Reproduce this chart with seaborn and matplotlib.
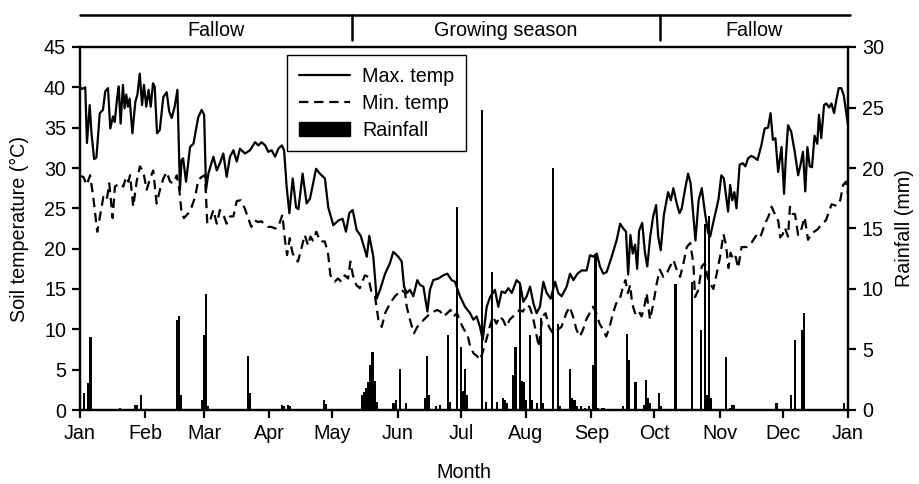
import matplotlib
matplotlib.use("Agg")
import matplotlib.pyplot as plt
import matplotlib.transforms as mtransforms
from matplotlib.patches import Patch
from matplotlib.lines import Line2D
import pandas as pd
import seaborn as sns

# ---------------- data (day of year) ----------------
tmax_day = [0, 1, 2.5, 3.3, 4.6, 5.4, 6.7, 7.8, 9.4, 10.9, 12.0, 13.3, 14.4, 15.7, 16.5, 17.7, 18.4, 19.3,
            20.4, 21.2, 22.0, 22.8, 23.6, 24.9, 26.3, 27.3, 28.4, 29.5, 30.4, 31.5, 32.6, 33.6, 34.7, 35.5,
            36.6, 37.9, 39.6, 41.2, 42.4, 43.6, 45.0, 46.3, 47.5, 48.3, 49.0, 50.4, 52.3, 53.9, 56.2, 57.8,
            59.0, 59.9, 61.0, 63.4, 65.0, 66.5, 68.1, 69.7, 71.3, 72.9, 74.5, 76.0, 78.4, 80.8, 83.2, 84.8,
            86.3, 88.0, 89.5, 91.1, 92.7, 94.3, 95.9, 97.0, 98.2, 99.5, 101.1, 102.7, 103.8, 105.8, 107.7,
            109.3, 112.2, 114.0, 116.4, 118.0, 120.4, 122.8, 124.8, 126.4, 128.0, 129.6, 131.5, 133.4, 135.0,
            136.3, 137.5, 139.4, 141.0, 142.6, 145.0, 147.3, 148.9, 151.3, 152.9, 154.0, 155.3, 156.8, 158.4,
            160.3, 161.6, 163.2, 165.1, 166.3, 167.9, 170.3, 172.7, 174.6, 176.6, 178.2, 180.6, 183.0, 185.4,
            186.9, 188.5, 190.1, 191.4, 193.3, 194.9, 197.2, 198.8, 200.4, 202.0, 203.6, 205.2, 207.5, 209.1,
            210.7, 212.3, 213.9, 215.5, 217.0, 218.6, 220.2, 221.8, 223.7, 225.8, 227.3, 228.9, 231.3, 232.9,
            234.5, 236.4, 238.4, 240.8, 242.4, 244.0, 245.6, 247.1, 248.7, 250.3, 252.7, 255.1, 256.7, 258.2,
            259.5, 260.5, 261.6, 262.7, 263.8, 264.8, 265.7, 267.2, 268.5, 269.6, 271.0, 272.4, 273.8, 274.8,
            276.0, 277.5, 279.5, 280.8, 282.0, 283.6, 284.9, 286.0, 287.5, 289.0, 290.2, 291.5, 292.5, 294.0,
            295.5, 297.0, 298.5, 299.5, 301.0, 302.5, 303.5, 304.8, 306.0, 307.0, 308.0, 309.0, 310.0, 311.0,
            312.0, 313.5, 315.0, 316.2, 317.5, 319.0, 320.5, 322.0, 323.8, 325.4, 327.0, 328.2, 329.3, 330.5,
            331.8, 333.4, 334.6, 335.4, 336.5, 338.0, 339.7, 341.3, 342.5, 343.6, 344.7, 345.7, 346.8, 347.9,
            349.1, 350.4, 351.2, 352.3, 353.6, 354.7, 356.0, 357.1, 358.4, 359.5, 360.6, 361.8, 363.0, 364.1,
            365.0]
tmax = [40.0, 39.8, 40.0, 33.1, 37.8, 34.5, 31.1, 31.3, 36.8, 37.2, 39.5, 39.9, 34.9, 36.4, 35.7, 38.8, 40.1, 35.5,
        40.3, 37.4, 39.1, 37.6, 38.6, 34.3, 38.2, 39.1, 41.7, 37.8, 40.3, 37.6, 39.7, 37.6, 40.5, 40.1,
        34.3, 34.7, 38.8, 39.4, 37.0, 36.2, 37.6, 39.7, 27.3, 31.0, 31.2, 28.3, 32.6, 33.0, 36.3, 37.2,
        36.6, 27.3, 29.3, 31.4, 29.7, 30.6, 31.8, 28.9, 31.4, 32.2, 30.8, 32.4, 31.8, 32.2, 33.2, 32.8,
        33.2, 32.8, 32.0, 32.2, 31.4, 32.4, 32.8, 32.2, 27.7, 24.4, 28.7, 25.1, 24.9, 29.3, 25.6,
        26.2, 29.9, 29.3, 28.7, 25.1, 22.9, 23.5, 23.7, 22.1, 24.4, 24.8, 22.3, 21.6, 20.2,
        19.0, 21.6, 19.0, 13.8, 14.9, 16.9, 18.2, 19.6, 19.0, 18.4, 15.3, 14.5, 14.9, 14.1,
        16.1, 15.5, 15.3, 12.2, 14.9, 16.1, 16.3, 16.7, 16.9, 16.1, 15.9, 14.1, 12.8, 12.0,
        11.2, 11.6, 10.3, 8.7, 12.8, 14.0, 14.9, 12.8, 14.7, 14.5, 15.1, 14.5, 16.1, 15.7,
        13.4, 14.1, 15.3, 13.2, 12.0, 12.8, 15.9, 14.5, 13.8, 15.9, 14.5, 14.1, 15.3, 16.9,
        16.1, 16.9, 17.3, 17.3, 19.2, 19.0, 19.4, 17.8, 16.9, 17.1, 19.0, 21.1, 23.1, 22.5,
        22.1, 16.8, 21.7, 19.4, 20.5, 17.5, 22.2, 23.2, 19.5, 17.8, 21.5, 24.0, 25.4, 21.5,
        19.8, 24.2, 27.0, 26.0, 27.5, 25.6, 24.4, 25.0, 27.3, 29.3, 28.1, 24.0, 21.0, 26.0,
        27.5, 24.5, 22.0, 21.5, 23.3, 25.0, 26.2, 29.1, 28.7, 26.6, 24.6, 27.9, 26.0, 27.0,
        25.0, 30.4, 30.6, 30.2, 31.2, 31.5, 31.3, 31.0, 32.8, 34.9, 35.0, 36.8, 33.5, 33.7,
        29.5, 32.6, 26.8, 31.0, 35.3, 34.5, 32.0, 29.1, 30.5, 32.0, 27.1, 32.6, 30.2, 30.1,
        34.0, 33.0, 36.6, 33.7, 37.8, 38.0, 37.5, 38.0, 36.8, 38.5, 39.9, 39.9, 39.0, 37.0,
        35.3]

tmin_day = [0, 1.6, 3.2, 4.8, 6.3, 8.2, 9.5, 11.1, 12.7, 13.9, 15.5, 16.6, 17.7, 19.0, 20.6, 21.9, 23.0, 23.8,
            25.3, 26.9, 28.5, 30.1, 31.7, 33.3, 34.8, 36.4, 38.0, 39.6, 41.2, 42.8, 44.3, 46.0, 47.2, 48.3,
            49.4, 51.5, 53.1, 54.7, 56.2, 57.8, 59.4, 60.5, 61.8, 63.4, 65.0, 66.5, 68.4, 69.7, 71.3, 72.9,
            74.5, 76.4, 78.3, 79.9, 81.4, 83.0, 84.6, 86.2, 87.8, 89.4, 91.0, 92.6, 94.1, 96.2, 97.3, 98.4,
            99.7, 100.9, 102.0, 103.6, 105.2, 106.8, 108.4, 109.5, 110.7, 112.3, 114.2, 116.3, 117.8, 119.0,
            121.0, 122.6, 124.2, 125.8, 127.4, 128.5, 129.7, 131.3, 133.0, 135.4, 137.0, 138.6, 140.2, 141.8,
            143.4, 145.0, 147.3, 149.7, 151.3, 152.9, 154.5, 155.3, 156.8, 158.7, 160.3, 161.8, 163.4, 165.0,
            166.6, 168.2, 169.7, 171.3, 172.9, 174.5, 176.1, 177.6, 179.2, 180.8, 182.4, 184.0, 185.5, 187.1,
            188.7, 190.0, 191.2, 193.1, 194.7, 196.3, 197.9, 199.4, 201.0, 202.6, 204.2, 205.8, 207.3, 208.9,
            210.5, 212.1, 213.7, 215.2, 216.8, 218.1, 219.7, 221.3, 222.9, 224.8, 226.7, 228.8, 231.1, 232.7,
            234.3, 235.9, 237.5, 239.0, 240.6, 242.2, 243.8, 245.4, 246.9, 248.5, 250.1, 251.7, 253.3, 254.8,
            256.4, 257.7, 259.2, 260.4, 261.5, 262.4, 263.8, 265.3, 266.9, 268.5, 269.3, 270.9, 272.5, 274.1,
            275.6, 277.2, 278.8, 280.4, 282.0, 283.6, 285.2, 286.8, 288.4, 290.0, 291.5, 292.3, 293.9, 295.5,
            297.0, 298.2, 299.4, 301.0, 302.6, 304.2, 305.8, 307.0, 308.2, 309.2, 310.5, 311.6, 312.8, 314.4,
            316.9, 319.3, 321.3, 323.2, 325.4, 327.2, 328.7, 330.4, 331.9, 332.8, 334.0, 335.0, 336.5, 337.4,
            338.7, 339.8, 341.3, 342.8, 344.4, 346.0, 347.8, 350.6, 352.6, 354.5, 357.2, 359.7, 361.3, 362.7,
            364.0, 365.0]
tmin = [29.0, 28.9, 27.9, 29.1, 26.4, 22.1, 24.0, 26.4, 26.0, 28.1, 23.8, 27.7, 27.9, 28.1, 27.7, 28.9, 28.3, 29.1,
        25.2, 28.3, 30.2, 29.5, 27.3, 28.7, 29.7, 25.6, 27.3, 28.7, 29.5, 28.3, 28.1, 29.1, 27.3, 24.4,
        23.8, 24.4, 25.2, 26.4, 28.5, 28.9, 29.1, 23.1, 23.5, 24.8, 23.1, 24.8, 24.0, 23.1, 24.0, 24.0,
        25.9, 26.0, 25.0, 23.8, 22.7, 23.5, 23.3, 23.4, 23.0, 22.7, 22.7, 22.5, 22.6, 24.2, 21.3, 19.2,
        21.3, 19.6, 18.8, 18.4, 20.0, 21.7, 20.4, 21.5, 21.0, 22.1, 20.9, 20.9, 19.6, 16.7,
        15.9, 16.3, 15.9, 16.7, 16.3, 18.4, 16.7, 15.5, 15.1, 16.7, 16.5, 14.5, 14.1, 11.2,
        10.3, 12.0, 13.2, 14.1, 14.5, 14.9, 14.5, 12.8, 11.2, 9.5, 10.3, 10.7, 11.2, 11.6,
        12.0, 12.2, 12.4, 12.2, 11.6, 12.0, 12.4, 11.6, 12.0, 10.9, 10.0, 9.5, 7.8, 7.0,
        6.7, 6.2, 7.0, 8.7, 10.3, 11.6, 10.7, 11.6, 11.2, 10.3, 11.2, 11.6, 12.0, 12.4,
        12.2, 13.0, 12.8, 11.6, 9.5, 7.8, 11.6, 12.0, 10.3, 9.5, 9.9, 10.3, 12.0, 12.8,
        11.6, 10.0, 9.1, 9.9, 11.2, 12.0, 12.8, 12.0, 10.7, 10.0, 9.1, 10.3, 12.0, 13.2,
        13.6, 14.9, 16.1, 14.5, 15.5, 13.2, 12.0, 12.4, 11.6, 13.2, 14.5, 11.2, 13.2, 15.7,
        17.4, 16.5, 16.9, 17.8, 18.6, 17.4, 16.5, 18.2, 20.2, 20.7, 18.2, 14.0, 14.9, 17.8,
        18.2, 16.5, 15.7, 15.0, 16.9, 19.0, 21.8, 20.5, 17.6, 19.5, 18.6, 19.0, 17.6, 20.2,
        20.2, 20.8, 21.6, 21.3, 23.0, 24.0, 25.2, 24.2, 23.4, 21.4, 21.8, 22.6, 21.5, 25.2,
        24.3, 24.3, 21.7, 22.4, 23.9, 21.1, 21.9, 22.4, 23.1, 23.5, 25.5, 25.3, 26.0, 27.9,
        28.3, 26.8]

rain_day = [2, 4, 5, 19, 26, 27, 29, 46, 47, 48, 58, 59, 60, 61, 80, 81, 96, 97, 99, 100, 116, 117,
            134, 135, 136, 137, 138, 139, 140, 141, 149, 150, 152, 155, 164, 165, 166, 169, 171, 175, 176,
            179, 181, 182, 183, 184, 191, 193, 196, 198, 201, 202, 203, 206, 207, 209, 210, 211, 212, 214,
            215, 217, 219, 220, 225, 227, 228, 233, 234, 235, 236, 238, 240, 242, 244, 245, 246, 248, 249,
            258, 260, 261, 264, 268, 269, 270, 271, 275, 276, 283, 291, 295, 297, 298, 299, 300, 307, 309,
            310, 311, 331, 338, 340, 343, 344, 363]
rain_mm = [1.4, 2.2, 6.0, 0.2, 0.4, 0.4, 1.2, 7.4, 7.8, 1.2, 0.8, 6.2, 9.6, 0.3, 4.5, 1.4, 0.4, 0.3, 0.4, 0.3, 0.8, 0.5,
           1.2, 1.5, 1.8, 2.3, 3.7, 4.8, 2.4, 0.7, 0.55, 0.8, 3.4, 0.6, 1.0, 4.5, 1.2, 0.3, 0.4, 6.2, 0.7,
           16.8, 5.2, 1.6, 3.4, 1.2, 24.8, 0.7, 11.4, 0.7, 1.0, 0.8, 0.55, 2.9, 5.2, 10.5, 2.4, 2.3, 0.8, 6.2,
           0.8, 0.55, 7.6, 0.6, 20.0, 7.1, 0.3, 3.4, 1.0, 0.8, 0.3, 0.3, 0.2, 0.3, 3.7, 12.9, 0.2, 0.2, 0.2,
           0.3, 6.3, 4.1, 2.3, 0.4, 2.5, 1.0, 0.55, 1.4, 0.3, 10.4, 10.6, 6.6, 15.4, 1.2, 16.0, 1.0, 4.4, 0.2,
           0.4, 0.4, 0.55, 1.2, 5.8, 6.6, 8.0, 0.6]

month_days = [0, 31, 59, 90, 120, 151, 181, 212, 243, 273, 304, 334, 365]
month_labels = ["Jan", "Feb", "Mar", "Apr", "May", "Jun", "Jul", "Aug", "Sep", "Oct", "Nov", "Dec", "Jan"]
season_labels = ["Fallow", "Growing season", "Fallow"]
season_bounds = [0, 129.3, 275.7, 365]

# ---------------- style ----------------
sns.set_style("ticks")
plt.rcParams['font.family'] = ['Liberation Sans', 'DejaVu Sans']
plt.rcParams['text.color'] = 'black'
plt.rcParams['axes.labelcolor'] = 'black'
plt.rcParams['xtick.color'] = 'black'
plt.rcParams['ytick.color'] = 'black'
FS = 14.2
DASH = (4.2, 2.6)

df_max = pd.DataFrame({"day": tmax_day, "temp": tmax})
df_min = pd.DataFrame({"day": tmin_day, "temp": tmin})
df_rain = pd.DataFrame({"day": rain_day, "mm": rain_mm})

fig = plt.figure(figsize=(9.2, 4.84), dpi=100)
ax = fig.add_axes([80 / 920, 1 - 410 / 484, 768 / 920, 363 / 484])

sns.lineplot(data=df_max, x="day", y="temp", ax=ax, color="black", lw=1.6, legend=False)
sns.lineplot(data=df_min, x="day", y="temp", ax=ax, color="black", lw=1.6, legend=False)
ax.lines[1].set_dashes(DASH)

ax2 = ax.twinx()
ax2.bar(df_rain["day"], df_rain["mm"], width=1.0, color="black", linewidth=0)

ax.set_xlim(0, 365)
ax.set_ylim(0, 45)
ax2.set_ylim(0, 30)
ax.set_yticks(range(0, 46, 5))
ax2.set_yticks(range(0, 31, 5))
ax.set_xticks(month_days)
ax.set_xticklabels(month_labels)

for a in (ax, ax2):
    for s in a.spines.values():
        s.set_visible(True)
        s.set_linewidth(1.6)
        s.set_color("black")
    a.tick_params(direction="out", length=6, width=1.6, labelsize=FS, colors="black", pad=4)
ax.tick_params(axis="x", top=False)
ax2.tick_params(axis="y", right=True, left=False)

ax.set_xlabel("Month", fontsize=FS, color="black")
ax.set_ylabel("Soil temperature (°C)", fontsize=FS, color="black")
ax2.set_ylabel("Rainfall (mm)", fontsize=FS, color="black")
ax.xaxis.set_label_coords(0.5, -0.145)
ax.yaxis.set_label_coords(-0.067, 0.5)
ax2.yaxis.set_label_coords(1.061, 0.5)

# legend
handles = [Line2D([], [], color="black", lw=1.6),
           Line2D([], [], color="black", lw=1.6, dashes=DASH),
           Patch(facecolor="black", edgecolor="black")]
leg = ax2.legend(handles, ["Max. temp", "Min. temp", "Rainfall"], loc="upper left",
                 bbox_to_anchor=(0.2695, 0.978), borderaxespad=0, fontsize=FS,
                 frameon=True, fancybox=False, shadow=False, framealpha=1,
                 handlelength=2.6, handletextpad=0.6, borderpad=0.6, labelspacing=0.4,
                 labelcolor="black")
leg.get_frame().set_edgecolor("black")
leg.get_frame().set_linewidth(1.0)

# season band above the axes
trans = mtransforms.blended_transform_factory(ax.transData, ax.transAxes)
y_top = (410 - 15) / 363
y_bot = (410 - 40) / 363
y_txt = (410 - 31) / 363
ax.plot([season_bounds[0], season_bounds[-1] + 1], [y_top, y_top], transform=trans,
        color="black", lw=1.8, clip_on=False)
for b in season_bounds[1:-1]:
    ax.plot([b, b], [y_top, y_bot], transform=trans, color="black", lw=1.8, clip_on=False)
for lab, x0, x1 in zip(season_labels, season_bounds[:-1], season_bounds[1:]):
    ax.text((x0 + x1) / 2, y_txt, lab, transform=trans, ha="center", va="center",
            fontsize=FS, color="black")

fig.savefig("out.png", dpi=100)
